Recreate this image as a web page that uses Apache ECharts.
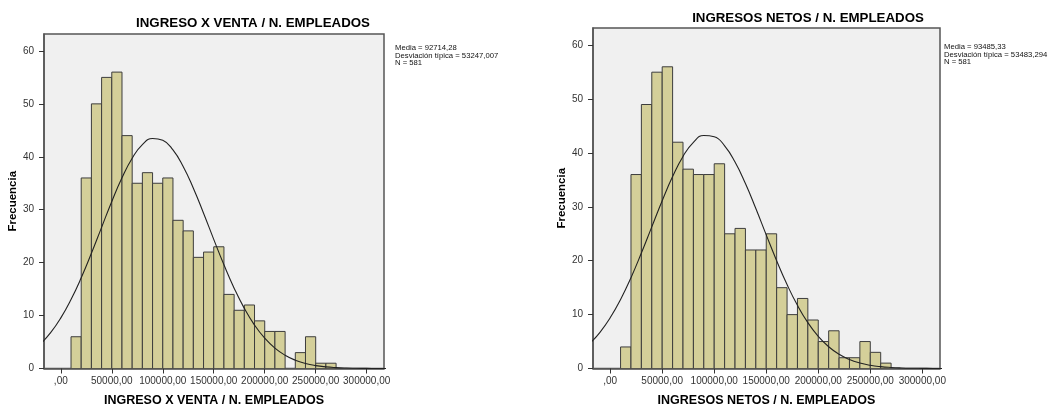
<!DOCTYPE html>
<html>
<head>
<meta charset="utf-8">
<script src="https://cdn.jsdelivr.net/npm/echarts@6/dist/echarts.min.js"></script>
<style>
html,body{margin:0;padding:0;background:#fff;}
#chart{width:1054px;height:412px;}
</style>
</head>
<body>
<div id="chart"></div>
<script>
// ---- data ----
const xTickValues = [0, 50000, 100000, 150000, 200000, 250000, 300000];
const xTickLabels = [',00', '50000,00', '100000,00', '150000,00', '200000,00', '250000,00', '300000,00'];
const yTickValues = [0, 10, 20, 30, 40, 50, 60];
const yTickLabels = ['0', '10', '20', '30', '40', '50', '60'];

const binLower = [10000, 20000, 30000, 40000, 50000, 60000, 70000, 80000, 90000, 100000,
  110000, 120000, 130000, 140000, 150000, 160000, 170000, 180000, 190000, 200000,
  210000, 220000, 230000, 240000, 250000, 260000];
const binUpper = [20000, 30000, 40000, 50000, 60000, 70000, 80000, 90000, 100000, 110000,
  120000, 130000, 140000, 150000, 160000, 170000, 180000, 190000, 200000, 210000,
  220000, 230000, 240000, 250000, 260000, 270000];

const countsVenta = [6, 36, 50, 55, 56, 44, 35, 37, 35, 36, 28, 26, 21, 22, 23, 14, 11, 12, 9, 7, 7, 0, 3, 6, 1, 1];
const countsNetos = [4, 36, 49, 55, 56, 42, 37, 36, 36, 38, 25, 26, 22, 22, 25, 15, 10, 13, 9, 5, 7, 2, 2, 5, 3, 1];

const curveX = [-20000, -10000, 0, 10000, 20000, 30000, 40000, 50000, 60000, 70000, 80000, 90000,
  100000, 110000, 120000, 130000, 140000, 150000, 160000, 170000, 180000, 190000, 200000,
  210000, 220000, 230000, 240000, 250000, 260000, 270000, 280000, 290000, 300000, 310000, 320000];
const curveVenta = [4.63, 6.77, 9.56, 13.03, 17.13, 21.76, 26.67, 31.56, 36.04, 39.74, 42.31, 43.47,
  43.12, 41.30, 38.17, 34.06, 29.34, 24.40, 19.59, 15.18, 11.36, 8.20, 5.72,
  3.85, 2.50, 1.57, 0.95, 0.55, 0.31, 0.17, 0.09, 0.05, 0.02, 0.01, 0.00];
const curveNetos = [4.56, 6.67, 9.41, 12.82, 16.86, 21.43, 26.29, 31.14, 35.62, 39.36, 41.98, 43.25,
  43.02, 41.32, 38.32, 34.33, 29.69, 24.80, 20.00, 15.58, 11.72, 8.51, 5.96,
  4.04, 2.64, 1.67, 1.02, 0.60, 0.34, 0.19, 0.10, 0.05, 0.03, 0.01, 0.01];

const titleVenta = 'INGRESO X VENTA / N. EMPLEADOS';
const titleNetos = 'INGRESOS NETOS / N. EMPLEADOS';
const statsVenta = ['Media = 92714,28', 'Desviación típica = 53247,007', 'N = 581'];
const statsNetos = ['Media = 93485,33', 'Desviación típica = 53483,294', 'N = 581'];
const yName = 'Frecuencia';

// ---- chart ----
const FONT = 'Arial, "Liberation Sans", sans-serif';
const chart = echarts.init(document.getElementById('chart'), null, {renderer: 'canvas'});

function barData(counts) {
  return counts.map((c, i) => [binLower[i], binUpper[i], c]);
}
function curveData(vals) {
  return vals.map((v, i) => [curveX[i], v]);
}
function renderBar(params, api) {
  if (api.value(2) <= 0) return null;
  const p0 = api.coord([api.value(0), api.value(2)]);
  const p1 = api.coord([api.value(1), 0]);
  return {
    type: 'rect',
    shape: {x: p0[0], y: p0[1], width: p1[0] - p0[0], height: p1[1] - p0[1]},
    style: {fill: '#D4CF99', stroke: '#3d3d3d', lineWidth: 1}
  };
}
function xAxis(gridIndex) {
  return {
    type: 'value', gridIndex, min: -16500, max: 317000,
    splitLine: {show: false},
    axisLine: {show: true, onZero: false, lineStyle: {color: '#555', width: 1.5}},
    axisTick: {show: true, customValues: xTickValues, length: 5, lineStyle: {color: '#333', width: 1}},
    axisLabel: {customValues: xTickValues, margin: 8, fontSize: 10, color: '#333', fontFamily: FONT,
      formatter: v => xTickLabels[xTickValues.indexOf(v)]},
    name: gridIndex === 0 ? titleVenta : titleNetos,
    nameLocation: 'middle', nameGap: 25.5,
    nameTextStyle: {fontSize: 12.5, fontWeight: 'bold', color: '#000', fontFamily: FONT}
  };
}
function yAxis(gridIndex) {
  return {
    type: 'value', gridIndex, min: 0, max: 63.2,
    splitLine: {show: false},
    axisLine: {show: true, onZero: false, lineStyle: {color: '#555', width: 1.5}},
    axisTick: {show: true, customValues: yTickValues, length: 5, lineStyle: {color: '#333', width: 1}},
    axisLabel: {customValues: yTickValues, margin: 10, fontSize: 10, color: '#333', fontFamily: FONT,
      formatter: v => yTickLabels[yTickValues.indexOf(v)]},
    name: yName, nameLocation: 'middle', nameGap: 24.5,
    nameTextStyle: {fontSize: 11.5, fontWeight: 'bold', color: '#000', fontFamily: FONT}
  };
}
function statsText(lines, x, y) {
  return lines.map((t, i) => ({
    type: 'text', x: x, y: y + i * 7.5,
    style: {text: t, fontSize: 7.7, fontFamily: FONT, fill: '#111', align: 'left', verticalAlign: 'middle'}
  }));
}

const option = {
  animation: false,
  backgroundColor: '#fff',
  grid: [
    {left: 44, top: 34, width: 340, height: 341, show: true, backgroundColor: '#F0F0F0', borderColor: '#555', borderWidth: 1.5},
    {left: 593, top: 28, width: 347, height: 345, show: true, backgroundColor: '#F0F0F0', borderColor: '#555', borderWidth: 1.5}
  ],
  xAxis: [xAxis(0), xAxis(1)],
  yAxis: [yAxis(0), yAxis(1)],
  graphic: [
    {type: 'text', x: 253, y: 23, style: {text: titleVenta, fontSize: 13.3, fontWeight: 'bold', fontFamily: FONT, fill: '#000', align: 'center', verticalAlign: 'middle'}},
    {type: 'text', x: 808, y: 18, style: {text: titleNetos, fontSize: 13.3, fontWeight: 'bold', fontFamily: FONT, fill: '#000', align: 'center', verticalAlign: 'middle'}},
    ...statsText(statsVenta, 395, 48),
    ...statsText(statsNetos, 944, 47)
  ],
  series: [
    {type: 'custom', xAxisIndex: 0, yAxisIndex: 0, data: barData(countsVenta), renderItem: renderBar, encode: {x: [0, 1], y: 2}, clip: true},
    {type: 'custom', xAxisIndex: 1, yAxisIndex: 1, data: barData(countsNetos), renderItem: renderBar, encode: {x: [0, 1], y: 2}, clip: true},
    {type: 'line', xAxisIndex: 0, yAxisIndex: 0, data: curveData(curveVenta), smooth: true, showSymbol: false, symbol: 'none', clip: true, lineStyle: {color: '#222', width: 1.1}, z: 5},
    {type: 'line', xAxisIndex: 1, yAxisIndex: 1, data: curveData(curveNetos), smooth: true, showSymbol: false, symbol: 'none', clip: true, lineStyle: {color: '#222', width: 1.1}, z: 5}
  ]
};
chart.setOption(option);
</script>
</body>
</html>
